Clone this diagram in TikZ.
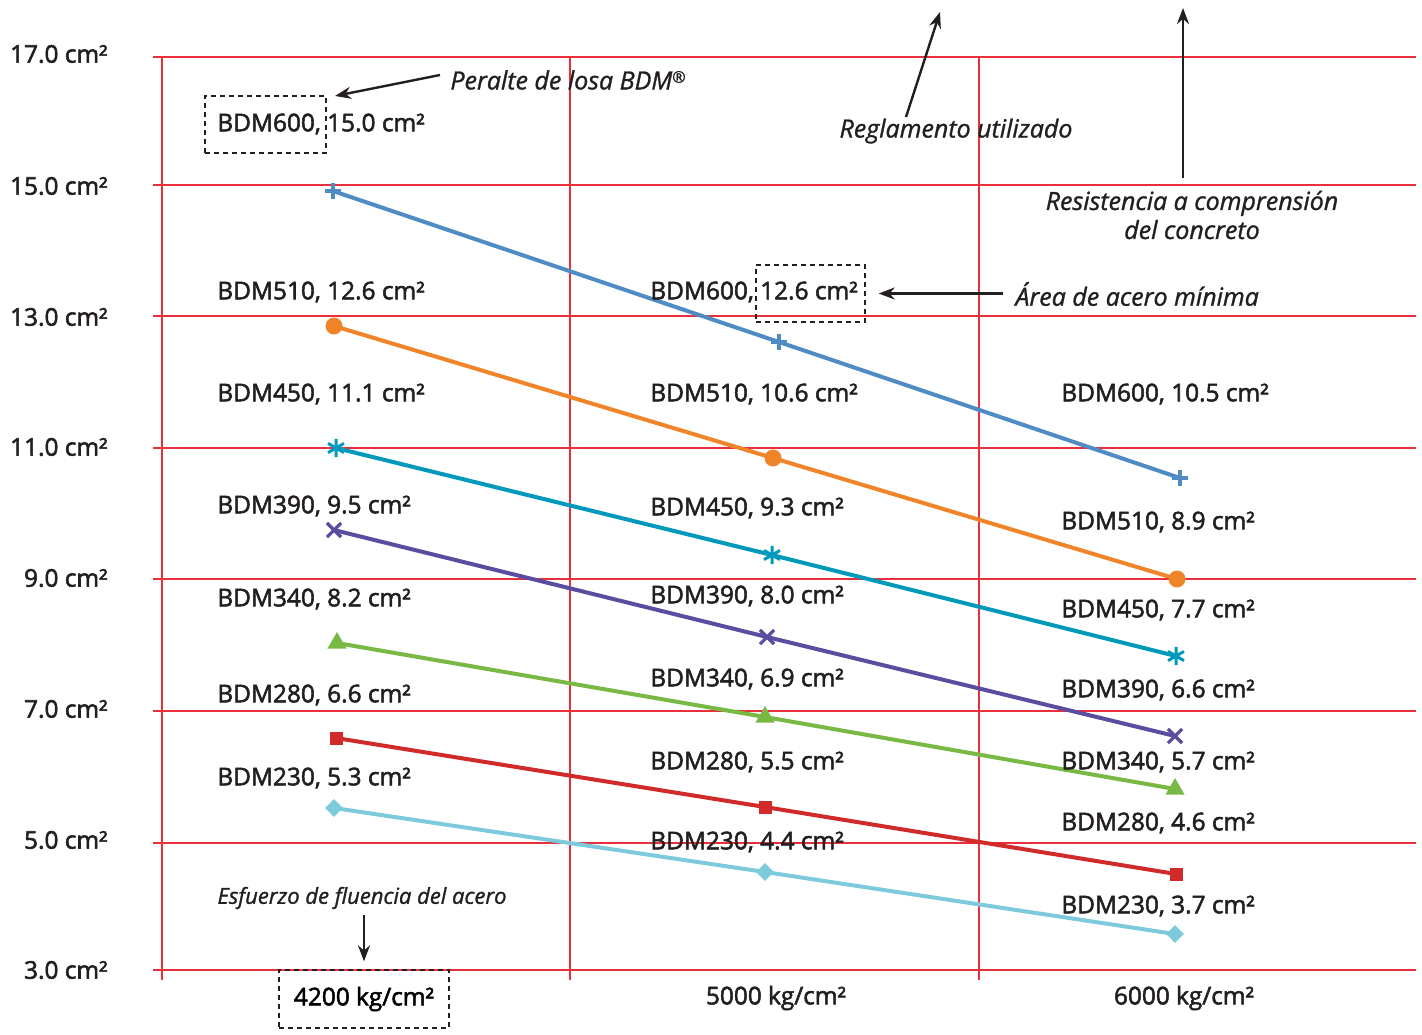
\documentclass[tikz,border=0pt]{standalone}
\usepackage{fontspec}
\setmainfont{Open Sans}[UprightFeatures={FakeBold=2.2},ItalicFeatures={FakeBold=1.2}]
\usetikzlibrary{arrows.meta,shapes.geometric,shapes.misc}
\definecolor{bdmgrid}{HTML}{E8303C}
\definecolor{bdmtext}{HTML}{231F20}
\definecolor{bdm600}{HTML}{4F8CC4}
\definecolor{bdm510}{HTML}{EF8528}
\definecolor{bdm450}{HTML}{0099BC}
\definecolor{bdm390}{HTML}{5B4C9F}
\definecolor{bdm340}{HTML}{78B943}
\definecolor{bdm280}{HTML}{D02A2A}
\definecolor{bdm230}{HTML}{7CCADC}
\tikzset{
  grd/.style={bdmgrid,line width=0.7pt},
  ser/.style={line width=2pt},
  lab/.style={anchor=west,inner sep=0pt,text=bdmtext},
  ylab/.style={anchor=east,inner sep=0pt,text=bdmtext},
  note/.style={font=\fontsize{12.5}{14.5}\selectfont\itshape,text=bdmtext,inner sep=0pt,align=center},
  dbox/.style={draw=bdmtext,dash pattern=on 2.5pt off 2pt,line width=0.7pt,inner sep=0pt},
  ar/.style={-{Stealth[length=8pt,width=6pt]},line width=1.2pt,bdmtext},
  mplus/.style={minimum size=8pt,inner sep=0pt,path picture={
      \draw[bdm600,line width=1.6pt] (path picture bounding box.north)--(path picture bounding box.south)
        (path picture bounding box.west)--(path picture bounding box.east);}},
  mdot/.style={circle,fill=bdm510,minimum size=8.5pt,inner sep=0pt},
  mast/.style={minimum size=10pt,inner sep=0pt,path picture={
      \path (path picture bounding box.center) coordinate (c);
      \draw[bdm450,line width=1.5pt] (c) +(90:4.6pt) -- +(-90:4.6pt) (c) +(30:4.6pt) -- +(210:4.6pt)
        (c) +(150:4.6pt) -- +(-30:4.6pt);}},
  mx/.style={cross out,draw=bdm390,line width=1.6pt,minimum size=5.5pt,inner sep=0pt},
  mtri/.style={regular polygon,regular polygon sides=3,fill=bdm340,minimum size=11pt,inner sep=0pt},
  msq/.style={rectangle,fill=bdm280,minimum size=6.5pt,inner sep=0pt},
  mdia/.style={diamond,aspect=1,fill=bdm230,minimum size=9pt,inner sep=0pt},
}
\begin{document}
\begin{tikzpicture}[x=0.5pt,y=-0.5pt,font=\fontsize{12.2}{14}\selectfont]
  \useasboundingbox (0,0) rectangle (1422,1034);
  % grid
  \foreach \gy in {57,185,316,448,579,711,843,970}
    \draw[grd] (153,\gy) -- (1416,\gy);
  \foreach \gx in {162,570,979}
    \draw[grd] (\gx,57) -- (\gx,980);
  % y axis
  \node[ylab] (y17) at (108,54) {17.0 cm²};
  \node[ylab] (y15) at (108,186) {15.0 cm²};
  \node[ylab] (y13) at (108,317) {13.0 cm²};
  \node[ylab] (y11) at (108,447) {11.0 cm²};
  \node[ylab] (y9) at (108,578) {9.0 cm²};
  \node[ylab] (y7) at (108,709) {7.0 cm²};
  \node[ylab] (y5) at (108,840) {5.0 cm²};
  \node[ylab] (y3) at (108,970) {3.0 cm²};
  % x axis
  \node[dbox,minimum width=85pt,minimum height=29pt] (fy42) at (364,999) {4200 kg/cm²};
  \node[text=bdmtext] (fy50) at (776,998) {5000 kg/cm²};
  \node[text=bdmtext] (fy60) at (1184,998) {6000 kg/cm²};
  % points
  \coordinate (a1) at (333,191); \coordinate (a2) at (779,342); \coordinate (a3) at (1180,478);
  \coordinate (b1) at (334,326); \coordinate (b2) at (773,458); \coordinate (b3) at (1177,579);
  \coordinate (c1) at (336,448); \coordinate (c2) at (772,555); \coordinate (c3) at (1176,656);
  \coordinate (d1) at (334,530); \coordinate (d2) at (767,637); \coordinate (d3) at (1175,736);
  \coordinate (e1) at (337,643); \coordinate (e2) at (765,717); \coordinate (e3) at (1175,789);
  \coordinate (f1) at (336,738); \coordinate (f2) at (765,807); \coordinate (f3) at (1176,874);
  \coordinate (g1) at (334,808); \coordinate (g2) at (765,872); \coordinate (g3) at (1175,934);
  \draw[ser,bdm600] (a1)--(a2)--(a3);
  \draw[ser,bdm510] (b1)--(b2)--(b3);
  \draw[ser,bdm450] (c1)--(c2)--(c3);
  \draw[ser,bdm390] (d1)--(d2)--(d3);
  \draw[ser,bdm340] (e1)--(e2)--(e3);
  \draw[ser,bdm280] (f1)--(f2)--(f3);
  \draw[ser,bdm230] (g1)--(g2)--(g3);
  \foreach \p in {1,2,3}{
    \node[mplus] at (a\p) {}; \node[mdot] at (b\p) {}; \node[mast] at (c\p) {};
    \node[mx] at (d\p) {}; \node[mtri] at (e\p) {}; \node[msq] at (f\p) {};
    \node[mdia] at (g\p) {};}
  % labels 4200
  \node[lab] (l600a) at (217,124) {BDM600, 15.0 cm²};
  \node[lab] (l510a) at (217,292) {BDM510, 12.6 cm²};
  \node[lab] (l450a) at (217,394) {BDM450, 11.1 cm²};
  \node[lab] (l390a) at (217,506) {BDM390, 9.5 cm²};
  \node[lab] (l340a) at (217,599) {BDM340, 8.2 cm²};
  \node[lab] (l280a) at (217,695) {BDM280, 6.6 cm²};
  \node[lab] (l230a) at (217,778) {BDM230, 5.3 cm²};
  % labels 5000
  \node[lab] (l600b) at (650,292) {BDM600, 12.6 cm²};
  \node[lab] (l510b) at (650,394) {BDM510, 10.6 cm²};
  \node[lab] (l450b) at (650,508) {BDM450, 9.3 cm²};
  \node[lab] (l390b) at (650,596) {BDM390, 8.0 cm²};
  \node[lab] (l340b) at (650,679) {BDM340, 6.9 cm²};
  \node[lab] (l280b) at (650,762) {BDM280, 5.5 cm²};
  \node[lab] (l230b) at (650,842) {BDM230, 4.4 cm²};
  % labels 6000
  \node[lab] (l600c) at (1061,394) {BDM600, 10.5 cm²};
  \node[lab] (l510c) at (1061,522) {BDM510, 8.9 cm²};
  \node[lab] (l450c) at (1061,610) {BDM450, 7.7 cm²};
  \node[lab] (l390c) at (1061,690) {BDM390, 6.6 cm²};
  \node[lab] (l340c) at (1061,762) {BDM340, 5.7 cm²};
  \node[lab] (l280c) at (1061,823) {BDM280, 4.6 cm²};
  \node[lab] (l230c) at (1061,906) {BDM230, 3.7 cm²};
  % dashed boxes
  \node[dbox,minimum width=60.5pt,minimum height=28.5pt] (bx600) at (265.5,124.5) {};
  \node[dbox,minimum width=54.5pt,minimum height=28.5pt] (bx126) at (810.5,293.5) {};
  % notes
  \node[note,anchor=west] (peralte) at (450,80) {Peralte de losa BDM\raisebox{0.5ex}{\fontsize{8}{8}\selectfont ®}};
  \coordinate (tpA) at (335,96);
  \draw[ar] ([xshift=-5pt,yshift=2.5pt]peralte.west) -- (tpA);
  \node[note] (regl) at (956,131) {Reglamento utilizado};
  \coordinate (tpB) at (940,12);
  \draw[ar] ([xshift=-25pt,yshift=7pt]regl.center) -- (tpB);
  \node[note] (resis) at (1192,215) {Resistencia a comprensión\\del concreto};
  \coordinate (tpC) at (1183,8);
  \draw[ar] ([xshift=-4.5pt,yshift=18.5pt]resis.center) -- (tpC);
  \node[note,anchor=west] (area) at (1015,294) {Área de acero mínima};
  \draw[ar,shorten <=6pt,shorten >=6.5pt] (area.west|-bx126.east) -- (bx126.east);
  \node[note,font=\fontsize{11}{13}\selectfont\itshape] (esf) at (362,898) {Esfuerzo de fluencia del acero};
  \draw[ar,shorten <=3pt,shorten >=4pt] (esf.south-|fy42.north) -- (fy42.north);
\end{tikzpicture}
\end{document}
